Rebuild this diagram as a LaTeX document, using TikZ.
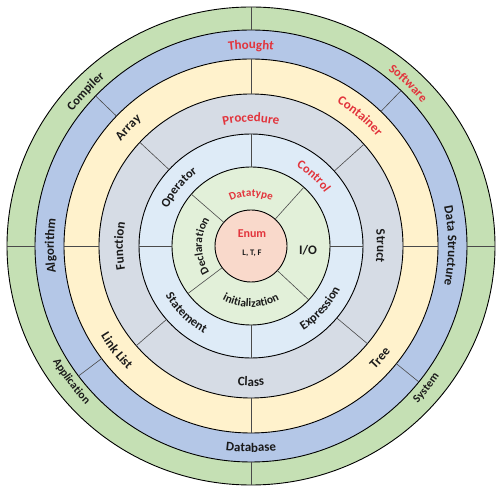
\documentclass[tikz,border=0pt]{standalone}
\usepackage{fontspec}
\setmainfont{Carlito}
\usetikzlibrary{decorations.text,calc}
\definecolor{gOut}{HTML}{C5E0B4}
\definecolor{bRing}{HTML}{B4C7E7}
\definecolor{yRing}{HTML}{FFF2CC}
\definecolor{grRing}{HTML}{D6DCE5}
\definecolor{lbRing}{HTML}{DEEBF7}
\definecolor{gIn}{HTML}{E2F0D9}
\definecolor{pCore}{HTML}{F9D9CB}
\definecolor{lblRed}{RGB}{226,52,60}
\definecolor{lblBlk}{HTML}{1A1A1A}
\definecolor{divGray}{HTML}{4A4A4A}
% clockwise arc text (tops outward): angle, baseline radius, format, text
\newcommand{\cwtext}[4]{%
  \path[decorate,decoration={text along path,text align=center,text={|#3|#4}}]
    ($(c)+(#1+80:#2pt)$) arc[start angle=#1+80,end angle=#1-80,radius=#2pt];}
% counter-clockwise arc text (tops inward)
\newcommand{\ccwtext}[4]{%
  \path[decorate,decoration={text along path,text align=center,text={|#3|#4}}]
    ($(c)+(#1-80:#2pt)$) arc[start angle=#1-80,end angle=#1+80,radius=#2pt];}
\newcommand{\divline}[3]{\draw[divGray,line width=0.6pt] ($(c)+(#1:#2pt)$) -- ($(c)+(#1:#3pt)$);}
\begin{document}
\begin{tikzpicture}[ring/.style={draw=black,line width=0.9pt}]
\useasboundingbox (0,0) rectangle (504pt,495pt);
\coordinate (c) at (251pt,249pt);
% rings
\fill[gOut,ring] (c) ellipse[x radius=244pt,y radius=239pt];
\fill[bRing,ring] (c) circle[radius=216pt];
\fill[yRing,ring] (c) circle[radius=187pt];
\fill[grRing,ring] (c) circle[radius=152pt];
\fill[lbRing,ring] (c) circle[radius=112pt];
\fill[gIn,ring] (c) circle[radius=79pt];
\fill[pCore,ring] (c) circle[radius=36pt];
% dividers
\draw[divGray,line width=0.6pt] ($(c)+(0:216pt)$) -- ($(c)+(0:244pt)$);
\draw[divGray,line width=0.6pt] ($(c)+(180:216pt)$) -- ($(c)+(180:244pt)$);
\draw[divGray,line width=0.6pt] ($(c)+(90:216pt)$) -- ($(c)+(90:239pt)$);
\draw[divGray,line width=0.6pt] ($(c)+(270:216pt)$) -- ($(c)+(270:239pt)$);
\foreach \a in {136,46,-39,217} {\divline{\a}{187}{216}}
\foreach \a in {0,90,180,270} {\divline{\a}{152}{187}}
\foreach \a in {137,42,-40,221} {\divline{\a}{112}{152}}
\foreach \a in {0,90,180,270} {\divline{\a}{79}{112}}
\foreach \a in {139,48,-43,217} {\divline{\a}{36}{79}}
% green ring labels
\cwtext{137}{223}{\fontsize{12.5}{15}\selectfont\bfseries\color{lblBlk}}{Compiler}
\cwtext{46}{223}{\fontsize{12.5}{15}\selectfont\bfseries\color{lblRed}}{Software}
\ccwtext{217}{229}{\fontsize{11.5}{14}\selectfont\bfseries\color{lblBlk}}{Application}
\ccwtext{-39}{229}{\fontsize{11.5}{14}\selectfont\bfseries\color{lblBlk}}{System}
% blue ring labels
\cwtext{90}{197}{\fontsize{13}{15}\selectfont\bfseries\color{lblRed}}{Thought}
\cwtext{0}{197}{\fontsize{13}{15}\selectfont\bfseries\color{lblBlk}}{Data Structure}
\cwtext{180}{197}{\fontsize{13}{15}\selectfont\bfseries\color{lblBlk}}{Algorithm}
\ccwtext{270}{206}{\fontsize{13}{15}\selectfont\bfseries\color{lblBlk}}{Database}
% yellow ring labels
\cwtext{136}{167}{\fontsize{13}{15}\selectfont\bfseries\color{lblBlk}}{Array}
\cwtext{50}{167}{\fontsize{13}{15}\selectfont\bfseries\color{lblRed}}{Container}
\ccwtext{218}{175}{\fontsize{13}{15}\selectfont\bfseries\color{lblBlk}}{Link List}
\ccwtext{-41}{175}{\fontsize{13}{15}\selectfont\bfseries\color{lblBlk}}{Tree}
% gray ring labels
\cwtext{90}{124}{\fontsize{13}{15}\selectfont\bfseries\color{lblRed}}{Procedure}
\cwtext{0}{126}{\fontsize{13}{15}\selectfont\bfseries\color{lblBlk}}{Struct}
\cwtext{180}{128}{\fontsize{13}{15}\selectfont\bfseries\color{lblBlk}}{Function}
\ccwtext{270}{140}{\fontsize{13}{15}\selectfont\bfseries\color{lblBlk}}{Class}
% light blue ring labels
\cwtext{141}{91}{\fontsize{12.5}{15}\selectfont\bfseries\color{lblBlk}}{Operator}
\cwtext{48}{91}{\fontsize{12.5}{15}\selectfont\bfseries\color{lblRed}}{Control}
\ccwtext{226}{99}{\fontsize{12.5}{15}\selectfont\bfseries\color{lblBlk}}{Statement}
\ccwtext{-42}{99}{\fontsize{12.5}{15}\selectfont\bfseries\color{lblBlk}}{Expression}
% inner green labels
\cwtext{90}{49.5}{\fontsize{11}{13}\selectfont\bfseries\color{lblRed}}{Datatype}
\cwtext{180}{49}{\fontsize{11.5}{13}\selectfont\bfseries\color{lblBlk}}{Declaration}
\ccwtext{270}{61}{\fontsize{11.5}{13}\selectfont\bfseries\color{lblBlk}}{initialization}
\node[font=\fontsize{13}{15}\selectfont\bfseries,text=lblBlk] (io) at (308pt,245pt) {I/O};
% core
\node[font=\fontsize{12}{14}\selectfont\bfseries,text=lblRed] (enum) at (252pt,261pt) {Enum};
\node[font=\fontsize{8.5}{10}\selectfont\bfseries,text=lblBlk] (ltf) at (252pt,242pt) {L, T, F};
\end{tikzpicture}
\end{document}
